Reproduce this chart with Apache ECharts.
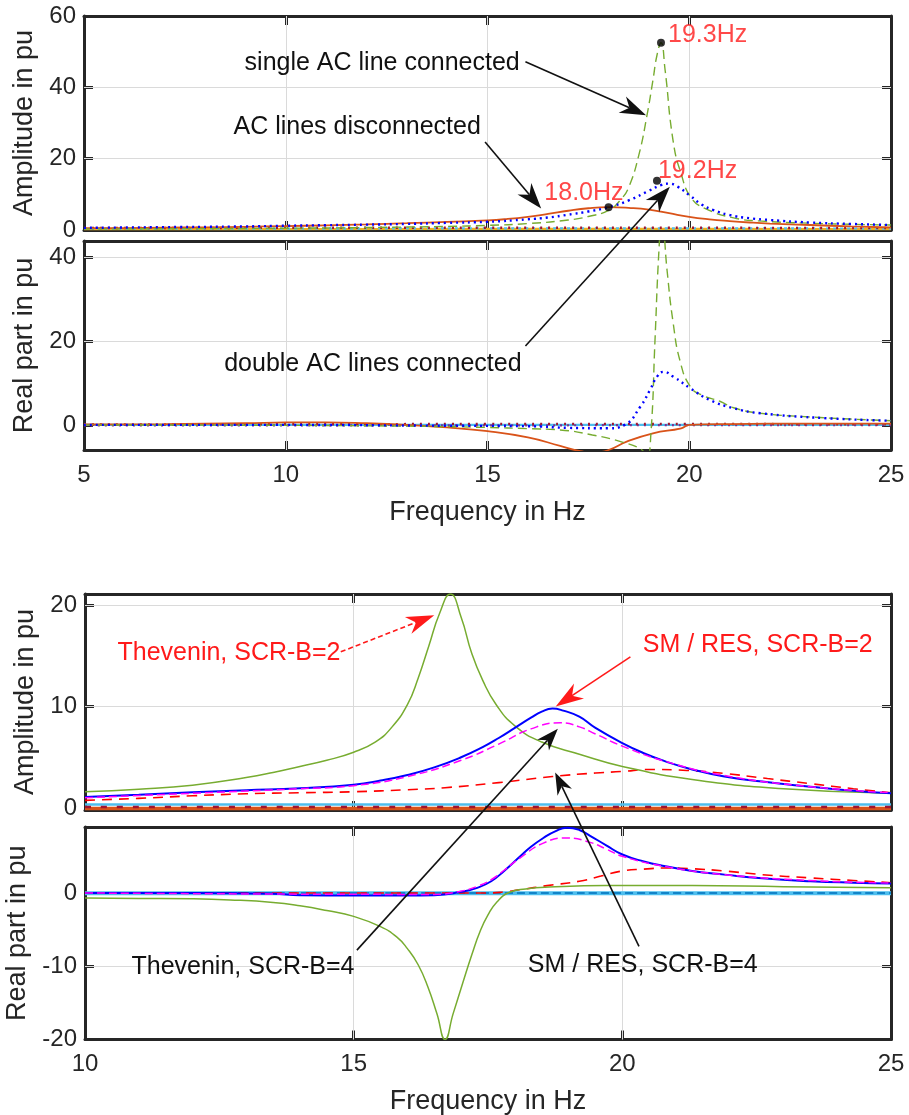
<!DOCTYPE html>
<html>
<head>
<meta charset="utf-8">
<script src="https://cdn.jsdelivr.net/npm/echarts@6/dist/echarts.min.js"></script>
<style>
  html, body { margin: 0; padding: 0; background: #fff; }
  #chart { width: 909px; height: 1115px; }
</style>
</head>
<body>
<div id="chart"></div>
<script>
// ---------------- Upper figure: HVDC side, three AC grid configurations ----------------
const upperFreqRange = [5, 25];
const upperFreqTicks = [5, 10, 15, 20, 25];
const upperAmpRange = [0, 60];
const upperAmpTicks = [0, 20, 40, 60];
const upperReRange = [-6, 44];
const upperReTicks = [0, 20, 40];

// AC lines disconnected (solid)
const discAmpF = [5, 6, 7, 8, 9, 10, 11, 12, 13, 14, 15, 15.5, 16, 16.5, 17, 17.5, 18, 18.5, 19, 19.5, 20, 20.5, 21, 21.5, 22, 23, 24, 25];
const discAmpV = [0.5, 0.55, 0.65, 0.75, 0.9, 1.1, 1.3, 1.55, 1.9, 2.3, 2.7, 3.1, 3.7, 4.5, 5.4, 6.1, 6.4, 6.2, 5.7, 4.7, 3.7, 3.0, 2.5, 2.1, 1.8, 1.4, 1.0, 0.7];
const discReF = [5, 7, 9, 10, 11, 12, 13, 14, 15, 16, 16.8, 17.3, 17.6, 18.0, 18.45, 19.1, 19.8, 20.0, 21, 23, 25];
const discReV = [0.1, 0.2, 0.4, 0.6, 0.6, 0.4, 0.0, -0.6, -1.5, -3.0, -5.0, -6.3, -6.6, -6.0, -4.0, -2.0, -0.8, 0.0, 0.2, 0.3, 0.3];

// double AC lines connected (dotted)
const dblAmpF = [5, 7, 9, 10, 11, 12, 13, 14, 15, 16, 16.5, 17, 17.5, 18, 18.5, 19, 19.3, 19.5, 19.7, 20, 20.3, 20.6, 21, 21.5, 22, 23, 24, 25];
const dblAmpV = [0.6, 0.8, 1.0, 1.2, 1.35, 1.5, 1.7, 2.0, 2.3, 3.0, 3.5, 4.3, 5.2, 6.4, 8.3, 11.0, 12.6, 13.0, 12.2, 9.8, 7.2, 5.6, 4.2, 3.3, 2.8, 2.1, 1.7, 1.4];
const dblReF = [5, 10, 14, 16, 17, 18, 18.4, 18.79, 19.03, 19.2, 19.36, 19.61, 20.03, 20.5, 21.1, 21.76, 23.4, 25];
const dblReV = [0, 0, -0.2, -0.3, -0.7, -0.8, 0.0, 4.4, 8.4, 11.5, 12.7, 11.5, 8.75, 6.0, 4.0, 2.8, 1.6, 1.0];

// single AC line connected (dashed)
const sglAmpF = [5, 8, 10, 12, 14, 15, 16, 17, 17.5, 18, 18.3, 18.5, 18.75, 18.95, 19.1, 19.2, 19.3, 19.4, 19.6, 19.8, 20.05, 20.4, 21.1, 21.8, 23, 24, 25];
const sglAmpV = [0.3, 0.4, 0.5, 0.7, 1.0, 1.3, 1.8, 2.8, 3.8, 5.5, 8.5, 12, 21, 32, 42, 49, 52.5, 45, 25, 15.7, 9, 6, 3.4, 2.5, 1.9, 1.6, 1.4];
const sglReF = [5, 10, 13, 15, 16, 16.8, 17.6, 18.3, 18.83, 18.95, 19.05, 19.15, 19.25, 19.32, 19.45, 19.6, 19.78, 20.03, 20.3, 20.77, 21.1, 21.76, 23, 24, 25];
const sglReV = [0, -0.1, -0.3, -0.6, -0.9, -1.2, -2.4, -4.0, -6.0, -8.0, -2.0, 20, 42, 50, 37, 24.5, 15, 9.1, 7.2, 5.6, 4.1, 2.8, 1.9, 1.4, 1.0];

// remaining traces lying close to zero
const upperBaseF = [5, 10, 15, 20, 25];
const upperAmpBaseA = [0.55, 0.6, 0.6, 0.6, 0.55];
const upperAmpBaseB = [0.25, 0.25, 0.3, 0.3, 0.25];
const upperAmpBaseC = [0.4, 0.4, 0.45, 0.45, 0.4];
const upperReBaseA = [0.1, 0.15, 0.2, 0.2, 0.15];
const upperReBaseB = [-0.1, -0.1, -0.1, -0.05, -0.05];
const upperReBaseC = [0, 0, 0, 0, 0];

// marked resonance peaks
const peakFreq = [19.3, 19.2, 18.0];
const peakAmp = [52.5, 13.8, 6.4];

// ---------------- Lower figure: grid models at SCR-B = 2 and 4 ----------------
const lowerFreqRange = [10, 25];
const lowerFreqTicks = [10, 15, 20, 25];
const lowerAmpRange = [-0.2, 21.1];
const lowerAmpTicks = [0, 10, 20];
const lowerReRange = [-20, 9];
const lowerReTicks = [-20, -10, 0];

// Thevenin, SCR-B=2 (solid green)
const thev2AmpF = [10, 11, 12, 13, 13.5, 14, 14.5, 15, 15.4, 15.7, 16.0, 16.2, 16.4, 16.6, 16.8, 17.0, 17.2, 17.4, 17.65, 18.0, 18.5, 19.2, 20, 21.3, 23, 25];
const thev2AmpV = [1.6, 1.85, 2.25, 3.0, 3.5, 4.1, 4.7, 5.5, 6.5, 7.9, 10.2, 12.8, 16.0, 19.2, 21.1, 18.8, 15.2, 12.6, 10.2, 8.1, 6.5, 5.3, 4.1, 2.8, 1.9, 1.45];
const thev2ReF = [10, 11, 12, 12.7, 13.5, 14, 14.5, 15, 15.5, 15.8, 16.0, 16.2, 16.38, 16.55, 16.7, 16.85, 17.03, 17.2, 17.35, 17.5, 17.67, 17.9, 18.2, 18.64, 19.7, 21.3, 23, 25];
const thev2ReV = [-0.7, -0.75, -0.8, -0.95, -1.3, -1.75, -2.4, -3.2, -4.6, -6.0, -7.6, -9.8, -12.8, -16.5, -20.0, -16.5, -12.3, -8.4, -5.3, -3.0, -1.2, 0.1, 0.55, 0.8, 1.0, 1.0, 0.85, 0.7];

// SM / RES, SCR-B=2 (solid blue)
const sm2AmpF = [10, 11, 12, 13, 14, 15, 15.5, 16, 16.5, 17, 17.4, 17.7, 18.0, 18.3, 18.5, 18.7, 18.9, 19.2, 19.5, 20, 20.4, 20.8, 21.3, 21.9, 22.6, 23.5, 24.3, 25];
const sm2AmpV = [1.08, 1.3, 1.55, 1.75, 1.95, 2.3, 2.7, 3.25, 4.0, 5.0, 6.0, 6.9, 7.9, 8.9, 9.5, 9.8, 9.6, 9.0, 7.9, 6.4, 5.4, 4.6, 3.8, 3.1, 2.6, 2.1, 1.7, 1.45];
const sm2ReF = [10, 12, 13.5, 14, 15, 16, 16.5, 17.0, 17.3, 17.56, 17.8, 18.1, 18.3, 18.53, 18.75, 18.97, 19.2, 19.4, 19.7, 20, 20.4, 20.8, 21.3, 21.9, 22.6, 23.5, 24.3, 25];
const sm2ReV = [0, 0, -0.1, -0.3, -0.35, -0.35, -0.3, 0.15, 0.7, 1.6, 3.0, 5.0, 6.3, 7.5, 8.4, 8.9, 8.6, 7.8, 6.5, 5.25, 4.3, 3.65, 3.0, 2.5, 2.0, 1.6, 1.4, 1.3];

// Thevenin, SCR-B=4 (dashed magenta)
const thev4AmpF = [10, 12, 14, 15, 16, 17, 17.7, 18.3, 18.85, 19.2, 19.5, 20, 20.8, 21.9, 23.5, 25];
const thev4AmpV = [1.0, 1.45, 1.9, 2.2, 3.1, 4.7, 6.3, 7.8, 8.4, 8.0, 7.3, 6.1, 4.6, 3.2, 2.1, 1.5];
const thev4ReF = [10, 16.5, 17.0, 17.3, 17.56, 17.8, 18.1, 18.53, 18.97, 19.4, 19.7, 20, 20.8, 21.9, 23.5, 25];
const thev4ReV = [0, -0.2, 0.25, 0.9, 1.8, 3.1, 4.8, 6.8, 7.5, 6.9, 6.0, 5.0, 3.6, 2.5, 1.7, 1.35];

// SM / RES, SCR-B=4 (dashed red)
const sm4AmpF = [10, 11, 12, 13, 14, 15, 16, 16.7, 17.7, 18.7, 19.5, 20, 20.5, 21.2, 21.9, 22.7, 23.5, 24.3, 25];
const sm4AmpV = [0.75, 0.95, 1.2, 1.4, 1.5, 1.6, 1.8, 2.0, 2.5, 3.1, 3.45, 3.6, 3.8, 3.7, 3.4, 2.9, 2.4, 1.9, 1.5];
const sm4ReF = [10, 17.5, 17.8, 18.1, 18.6, 19.2, 19.6, 20, 20.4, 20.8, 21.3, 21.9, 22.6, 23.5, 24.3, 25];
const sm4ReV = [0, 0, 0.15, 0.45, 1.0, 1.6, 2.3, 3.0, 3.25, 3.4, 3.3, 3.0, 2.5, 2.05, 1.7, 1.4];

// remaining traces lying close to zero
const lowerBaseF = [10, 15, 20, 25];
const lowerAmpBaseA = [0.35, 0.35, 0.35, 0.35];
const lowerAmpBaseB = [0.1, 0.1, 0.1, 0.1];
const lowerAmpBaseC = [-0.05, -0.05, -0.05, -0.05];
const lowerReBaseA = [-0.05, -0.05, -0.05, -0.05];
const lowerReBaseB = [0, 0, 0, 0];

// ---------------- styling ----------------
const FONT = '"Liberation Sans", Arial, Helvetica, sans-serif';
const INK = '#262626';
const FS = 24;      // tick labels
const FS_NAME = 27; // axis titles
const FS_NOTE = 25; // annotations

const grids = [
  { left: 84, top: 16, width: 807, height: 214 },
  { left: 84, top: 241, width: 807, height: 209 },
  { left: 85, top: 594, width: 806, height: 216 },
  { left: 85, top: 827, width: 806, height: 212.5 }
];

const panels = [
  { xr: upperFreqRange, xt: upperFreqTicks, yr: upperAmpRange, yt: upperAmpTicks, yName: 'Amplitude in pu', xLab: false },
  { xr: upperFreqRange, xt: upperFreqTicks, yr: upperReRange, yt: upperReTicks, yName: 'Real part in pu', xLab: true },
  { xr: lowerFreqRange, xt: lowerFreqTicks, yr: lowerAmpRange, yt: lowerAmpTicks, yName: 'Amplitude in pu', xLab: false },
  { xr: lowerFreqRange, xt: lowerFreqTicks, yr: lowerReRange, yt: lowerReTicks, yName: 'Real part in pu', xLab: true }
];

const frameLine = { show: true, onZero: false, lineStyle: { color: INK, width: 3 } };
const tickText = { color: INK, fontSize: FS, fontFamily: FONT };
const nameText = { color: INK, fontSize: FS_NAME, fontFamily: FONT };

const xAxes = [], yAxes = [];
panels.forEach((p, gi) => {
  const tick = { show: true, inside: true, length: 9, lineStyle: { color: INK, width: 3 }, customValues: p.xt };
  xAxes.push({
    gridIndex: gi, type: 'value', position: 'bottom', min: p.xr[0], max: p.xr[1],
    axisLine: frameLine, axisTick: tick, splitLine: { show: false },
    axisLabel: Object.assign({ show: p.xLab, customValues: p.xt, margin: 13 }, tickText),
    name: p.xLab ? 'Frequency in Hz' : '', nameLocation: 'middle', nameGap: 49, nameTextStyle: nameText
  });
  xAxes.push({
    gridIndex: gi, type: 'value', position: 'top', min: p.xr[0], max: p.xr[1],
    axisLine: frameLine, axisTick: tick, splitLine: { show: false }, axisLabel: { show: false }
  });
  const ytick = { show: true, inside: true, length: 9, lineStyle: { color: INK, width: 3 }, customValues: p.yt };
  yAxes.push({
    gridIndex: gi, type: 'value', position: 'left', min: p.yr[0], max: p.yr[1],
    axisLine: frameLine, axisTick: ytick, splitLine: { show: false },
    axisLabel: Object.assign({ customValues: p.yt, margin: 8 }, tickText),
    name: p.yName, nameLocation: 'middle', nameGap: 40, nameRotate: 90, nameTextStyle: nameText
  });
  yAxes.push({
    gridIndex: gi, type: 'value', position: 'right', min: p.yr[0], max: p.yr[1],
    axisLine: frameLine, axisTick: ytick, splitLine: { show: false }, axisLabel: { show: false }
  });
});

const pairs = (fs, vs) => fs.map((f, i) => [f, vs[i]]);

function trace(gi, fs, vs, color, width, type, z) {
  return {
    type: 'line', xAxisIndex: 2 * gi, yAxisIndex: 2 * gi,
    data: pairs(fs, vs), symbol: 'none', showSymbol: false,
    smooth: 0.5, clip: true, silent: true, animation: false,
    lineStyle: { color: color, width: width, type: type || 'solid' },
    z: z || 3
  };
}

// light grid lines at the labelled tick positions
function gridLines(gi) {
  const p = panels[gi];
  const xs = p.xt.filter(v => v > p.xr[0] && v < p.xr[1]).map(v => ({ xAxis: v }));
  const ys = p.yt.filter(v => v > p.yr[0] && v < p.yr[1]).map(v => ({ yAxis: v }));
  return {
    type: 'line', xAxisIndex: 2 * gi, yAxisIndex: 2 * gi, data: [], silent: true, animation: false, z: 1,
    markLine: {
      silent: true, symbol: ['none', 'none'], label: { show: false }, animation: false, z: 1,
      lineStyle: { color: '#dadada', width: 1, type: 'solid' },
      emphasis: { disabled: true },
      data: xs.concat(ys)
    }
  };
}

const GREEN = '#77AC30', BLUE = '#0000FF', ORANGE = '#D95319', MAGENTA = '#FF00FF', RED = '#FF0000';
const CYAN = '#4DBEEE', MAROON = '#A2142F', GOLD = '#EDB120', PURPLE = '#7E2F8E', NAVY = '#0072BD';

const peakLabelPlacement = [
  { position: 'right', distance: 3, offset: [0, -8] },
  { position: 'right', distance: 0, offset: [-3, -10] },
  { position: 'left', distance: 0, offset: [19, -14] }
];

const series = [
  gridLines(0), gridLines(1), gridLines(2), gridLines(3),

  // upper amplitude
  trace(0, upperBaseF, upperAmpBaseB, GOLD, 2.2),
  trace(0, upperBaseF, upperAmpBaseC, CYAN, 2.2, [3, 4]),
  trace(0, upperBaseF, upperAmpBaseA, MAROON, 2.5, [2, 6]),
  trace(0, discAmpF, discAmpV, ORANGE, 1.8),
  trace(0, sglAmpF, sglAmpV, GREEN, 1.4, [9, 5]),
  trace(0, dblAmpF, dblAmpV, BLUE, 2.4, [2, 4]),
  {
    type: 'scatter', xAxisIndex: 0, yAxisIndex: 0, symbol: 'circle', symbolSize: 8, z: 6,
    silent: true, animation: false,
    itemStyle: { color: '#000' },
    data: peakFreq.map((f, i) => ({
      value: [f, peakAmp[i]],
      label: Object.assign({
        show: true, color: '#ff1a1a', fontSize: FS_NOTE, fontFamily: FONT,
        formatter: (prm) => prm.value[0].toFixed(1) + 'Hz'
      }, peakLabelPlacement[i])
    }))
  },

  // upper real part
  trace(1, upperBaseF, upperReBaseC, CYAN, 2.2),
  trace(1, upperBaseF, upperReBaseB, PURPLE, 2.2, [2, 5]),
  trace(1, upperBaseF, upperReBaseA, MAROON, 2.5, [2, 6]),
  trace(1, discReF, discReV, ORANGE, 1.8),
  trace(1, sglReF, sglReV, GREEN, 1.4, [9, 5]),
  trace(1, dblReF, dblReV, BLUE, 2.4, [2, 4]),

  // lower amplitude
  trace(2, lowerBaseF, lowerAmpBaseC, ORANGE, 3.5),
  trace(2, lowerBaseF, lowerAmpBaseA, CYAN, 2.5),
  trace(2, lowerBaseF, lowerAmpBaseB, MAROON, 2.5, [6, 10]),
  trace(2, sm4AmpF, sm4AmpV, RED, 1.6, [10, 7]),
  trace(2, thev2AmpF, thev2AmpV, GREEN, 1.5),
  trace(2, sm2AmpF, sm2AmpV, BLUE, 2),
  trace(2, thev4AmpF, thev4AmpV, MAGENTA, 1.5, [8, 4]),

  // lower real part
  trace(3, lowerBaseF, lowerReBaseA, CYAN, 4),
  trace(3, lowerBaseF, lowerReBaseB, NAVY, 1.5, [8, 4]),
  trace(3, sm4ReF, sm4ReV, RED, 1.6, [10, 7]),
  trace(3, thev2ReF, thev2ReV, GREEN, 1.5),
  trace(3, sm2ReF, sm2ReV, BLUE, 2),
  trace(3, thev4ReF, thev4ReV, MAGENTA, 1.5, [8, 4])
];

const chart = echarts.init(document.getElementById('chart'), null, { renderer: 'canvas' });
chart.setOption({
  animation: false,
  backgroundColor: '#ffffff',
  grid: grids.map(g => Object.assign({ containLabel: false, outerBoundsMode: 'none', show: false }, g)),
  xAxis: xAxes,
  yAxis: yAxes,
  series: series
});

// ---------------- annotations (anchored in data coordinates) ----------------
const notes = [
  { text: 'single AC line connected', grid: 0, at: [12.39, 46.8], color: '#111' },
  { text: 'AC lines disconnected', grid: 0, at: [11.77, 28.8], color: '#111' },
  { text: 'double AC lines connected', grid: 1, at: [12.16, 14.6], color: '#111' },
  { text: 'Thevenin, SCR-B=2', grid: 2, at: [12.68, 15.3], color: '#ff1a1a' },
  { text: 'SM / RES, SCR-B=2', grid: 2, at: [22.52, 16.1], color: '#ff1a1a' },
  { text: 'Thevenin, SCR-B=4', grid: 3, at: [12.94, -10.1], color: '#111' },
  { text: 'SM / RES, SCR-B=4', grid: 3, at: [20.38, -9.9], color: '#111' }
];

const arrows = [
  { from: [0, 15.94, 47.2], to: [0, 18.93, 32.2], color: '#111', len: 26, half: 9 },
  { from: [0, 14.94, 24.7], to: [0, 16.33, 6.0], color: '#111', len: 26, half: 9 },
  { from: [1, 15.94, 18.9], to: [0, 19.52, 12.1], color: '#111', len: 26, half: 9 },
  { from: [2, 14.76, 15.4], to: [2, 16.5, 19.0], color: '#ff1a1a', len: 28, half: 9, dash: [5, 3] },
  { from: [2, 20.15, 14.9], to: [2, 18.76, 10.0], color: '#ff1a1a', len: 28, half: 9 },
  { from: [3, 15.06, -7.8], to: [2, 18.8, 7.8], color: '#111', len: 22, half: 8 },
  { from: [3, 20.31, -7.3], to: [2, 18.75, 3.5], color: '#111', len: 22, half: 8 }
];

const px = (gi, f, v) => chart.convertToPixel({ gridIndex: gi }, [f, v]);

const graphics = [];
notes.forEach(n => {
  const p = px(n.grid, n.at[0], n.at[1]);
  graphics.push({
    type: 'text', x: p[0], y: p[1], z: 100, silent: true,
    style: {
      text: n.text, fill: n.color, font: FS_NOTE + 'px ' + FONT,
      align: 'center', verticalAlign: 'middle', textAlign: 'center', textVerticalAlign: 'middle'
    }
  });
});

arrows.forEach(a => {
  const t = px(a.from[0], a.from[1], a.from[2]);
  const h = px(a.to[0], a.to[1], a.to[2]);
  const dx = h[0] - t[0], dy = h[1] - t[1];
  const d = Math.hypot(dx, dy);
  const ux = dx / d, uy = dy / d, nx = -uy, ny = ux;
  const bx = h[0] - ux * a.len, by = h[1] - uy * a.len;
  const notchX = h[0] - ux * a.len * 0.7, notchY = h[1] - uy * a.len * 0.7;
  graphics.push({
    type: 'line', z: 100, silent: true,
    shape: { x1: t[0], y1: t[1], x2: notchX, y2: notchY },
    style: { stroke: a.color, lineWidth: 1.6, lineDash: a.dash || null }
  });
  graphics.push({
    type: 'polygon', z: 100, silent: true,
    shape: { points: [[h[0], h[1]], [bx + nx * a.half, by + ny * a.half], [notchX, notchY], [bx - nx * a.half, by - ny * a.half]] },
    style: { fill: a.color }
  });
});

chart.setOption({ graphic: graphics });
</script>
</body>
</html>
